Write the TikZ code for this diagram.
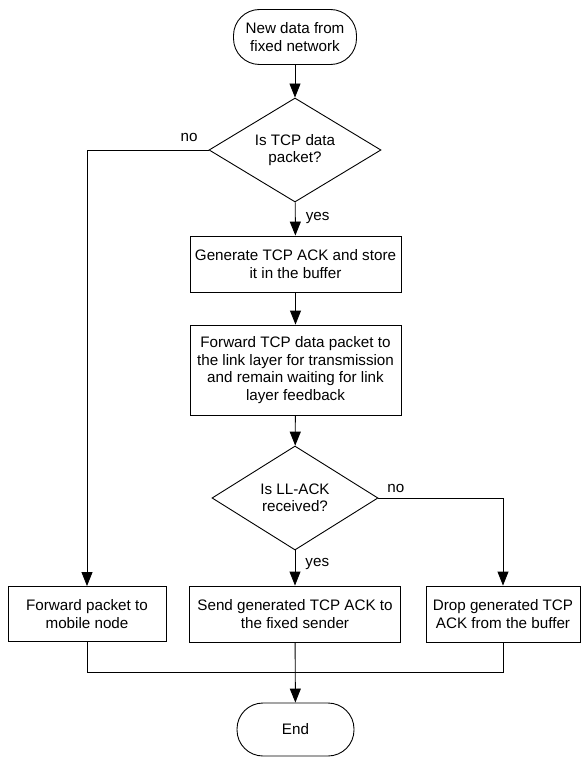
\documentclass[tikz,border=0pt]{standalone}
\usepackage{fontspec}
\setmainfont{Liberation Sans}
\usetikzlibrary{shapes.geometric, arrows.meta}

\begin{document}
\begin{tikzpicture}[x = 1pt, y = -1pt, > = {Triangle[length = 14pt, width = 11pt]}, line width = 0.9pt,
	every node/.style = {font = \fontsize{15.2}{17.4}\selectfont},
	box/.style = {draw, rectangle, align = center, inner sep = 2pt, minimum width = 211pt, minimum height = 56pt},
	term/.style = {draw, rectangle, rounded corners = 26pt, align = center, minimum height = 55pt},
	decision/.style = {draw, diamond, aspect = 1.65, align = center, inner sep = 0pt, minimum width = 172pt, minimum height = 104pt},
	tag/.style = {inner sep = 3pt}]

	% Frame
	
	\useasboundingbox (0, 0) rectangle (581, 757);

	% Steps
	
	\node [term, minimum width = 123pt] (start) at (295, 37) {New data from\\fixed network};
	\node [decision] (istcp) at (295, 150) {Is TCP data\\packet?};
	\node [box] (genack) at (295.5, 264) {Generate TCP ACK and store\\it in the buffer};
	\node [box, minimum height = 90pt] (fwdll) at (295.5, 370) {Forward TCP data packet to\\the link layer for transmission\\and remain waiting for link\\layer feedback};
	\node [decision, minimum width = 166pt] (isllack) at (295, 498) {Is LL-ACK\\received?};
	
	\node [box, minimum width = 158pt, minimum height = 55pt] (fwdmob) at (87, 614) {Forward packet to\\mobile node};
	\node [box] (sendack) at (295, 614) {Send generated TCP ACK to\\the fixed sender};
	\node [box, minimum width = 154pt] (dropack) at (503, 614) {Drop generated TCP\\ACK from the buffer};
	
	\node [term, minimum width = 117pt, minimum height = 53pt] (finish) at (295.5, 729.5) {End};
	
	\coordinate (merge) at (295, 672);

	% Flow
	
	\draw [->] (start) -- (istcp);
	\draw [->] (istcp) -- node [tag, right, xshift = 7pt, pos = 0.48] {yes} (genack);
	\draw [->] (istcp.west) -| node [tag, above, yshift = 5pt, pos = 0.08] {no} (fwdmob.north);
	\draw [->] (genack) -- (fwdll);
	\draw [->] (fwdll) -- (isllack);
	\draw [->] (isllack) -- node [tag, right, xshift = 7pt, pos = 0.38] {yes} (sendack);
	\draw [->] (isllack.east) -| node [tag, above, yshift = 2pt, pos = 0.07] {no} (dropack.north);
	
	% Join
	
	\draw (fwdmob.south) |- (merge);
	\draw (dropack.south) |- (merge);
	\draw [->] (sendack) -- (finish);

\end{tikzpicture}
\end{document}
